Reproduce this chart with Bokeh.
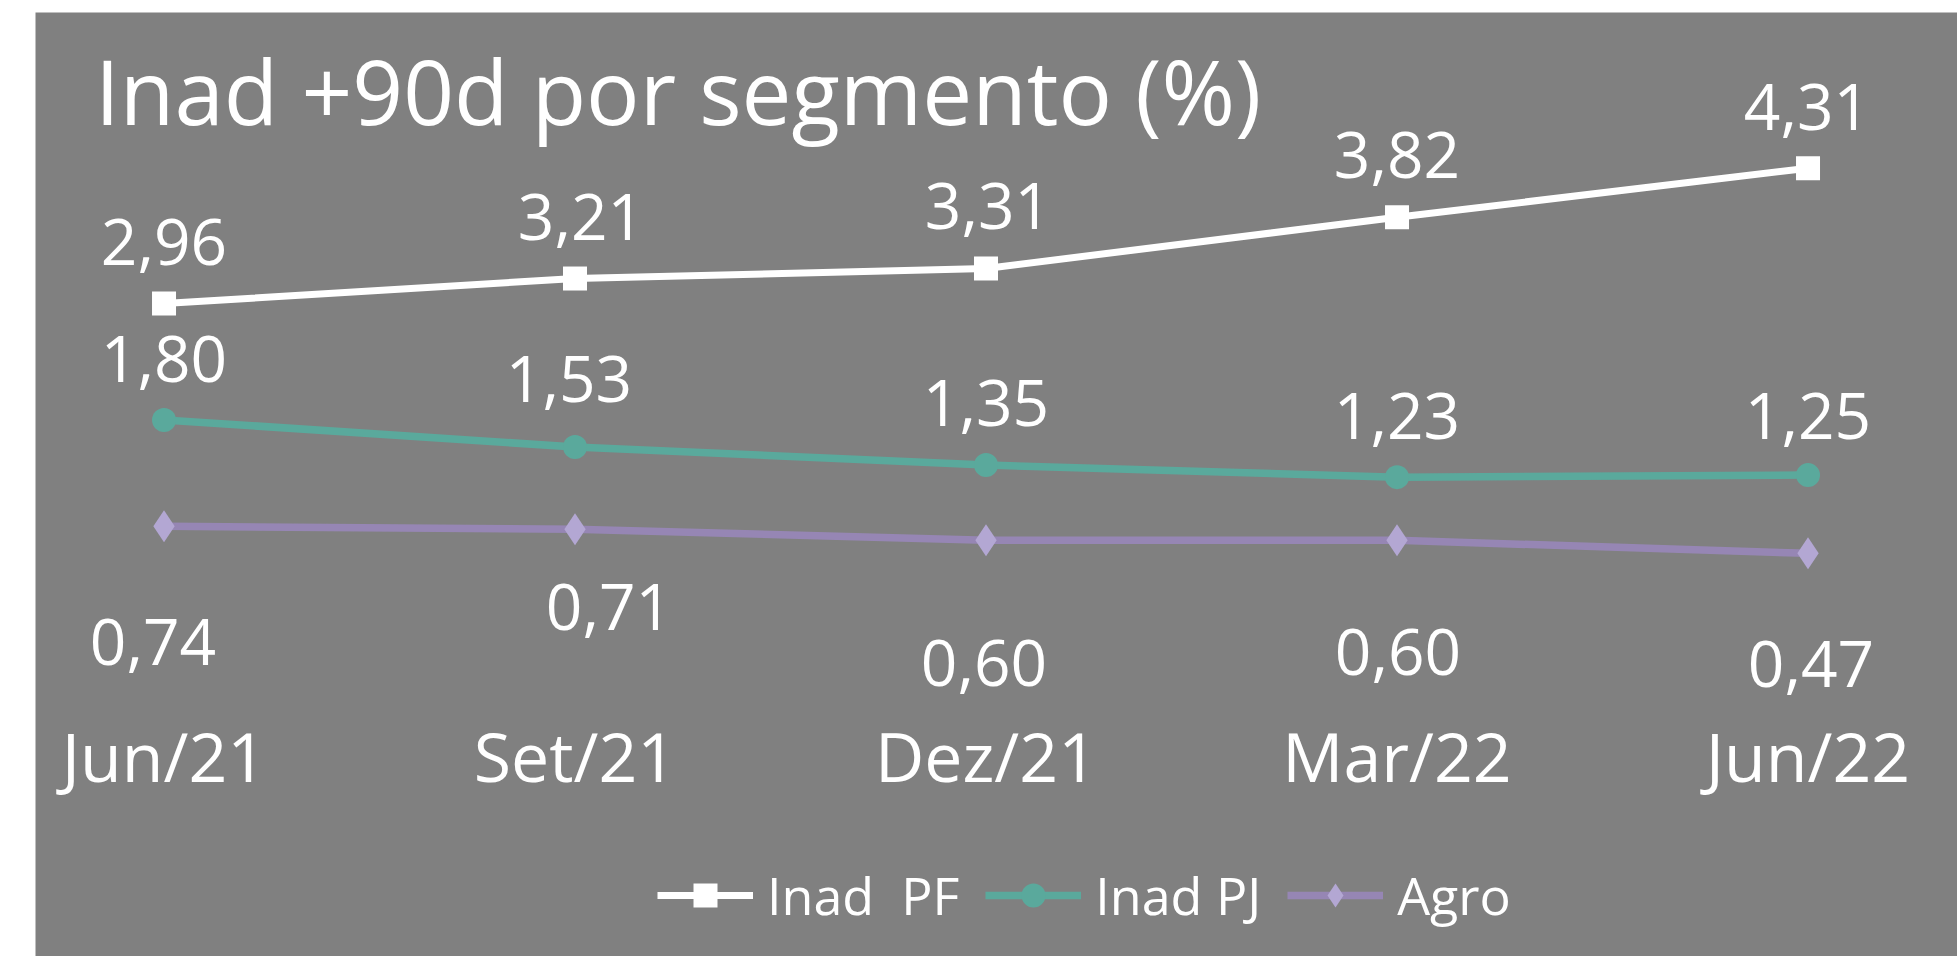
from bokeh.plotting import figure
from bokeh.models import (Range1d, FixedTicker, Legend, LegendItem,
                          ColumnDataSource, Label, Spacer)
from bokeh.layouts import column, row
from bokeh.embed import file_html
from bokeh.resources import INLINE
from bokeh.core.properties import value

# ---------------- data ----------------
periods = ["Jun/21", "Set/21", "Dez/21", "Mar/22", "Jun/22"]
inad_pf = [2.96, 3.21, 3.31, 3.82, 4.31]
inad_pj = [1.80, 1.53, 1.35, 1.23, 1.25]
agro = [0.74, 0.71, 0.60, 0.60, 0.47]
series_names = ["Inad  PF", "Inad PJ", "Agro"]
title_text = "Inad +90d por segmento (%)"

# ---------------- style ----------------
FONT = "Open Sans"
BG = "#808080"
PF_COLOR = "#ffffff"
PJ_COLOR = "#5aa99c"
AGRO_LINE = "#9686b4"
AGRO_MARK = "#b3a7d3"

# label offsets in screen px (dx right, up = upward)
pf_dx = [0, 6, 2, 0, -1]
pf_up = [62, 62, 62, 62, 61]
pj_dx = [0, -6, 0, 0, 0]
pj_up = [61, 68, 62, 61, 59]
ag_dx = [-11, 34, -2, 1, 3]
ag_up = [-116, -78, -123, -112, -111]

def fmt(v):
    return f"{v:.2f}".replace(".", ",")

xs = list(range(len(periods)))

p = figure(frame_width=1922, frame_height=944,
           x_range=Range1d(-0.3127, 4.3637), y_range=Range1d(-3.549, 5.862),
           output_backend="svg", toolbar_location=None,
           min_border_left=0, min_border_right=0, min_border_top=0,
           min_border_bottom=0)
p.background_fill_color = BG
p.border_fill_color = BG
p.outline_line_color = None
p.xgrid.visible = False
p.ygrid.visible = False
p.yaxis.visible = False

ax = p.xaxis[0]
ax.fixed_location = -0.997
ax.ticker = FixedTicker(ticks=xs)
ax.major_label_overrides = {i: lab for i, lab in enumerate(periods)}
ax.axis_line_color = None
ax.major_tick_line_color = None
ax.minor_tick_line_color = None
ax.major_tick_out = 0
ax.major_tick_in = 0
ax.major_label_standoff = 8
ax.major_label_text_font = FONT
ax.major_label_text_font_size = "68px"
ax.major_label_text_color = "white"

src_pf = ColumnDataSource(dict(x=xs, y=inad_pf, t=[fmt(v) for v in inad_pf],
                               dx=pf_dx, dy=[-u for u in pf_up]))
src_pj = ColumnDataSource(dict(x=xs, y=inad_pj, t=[fmt(v) for v in inad_pj],
                               dx=pj_dx, dy=[-u for u in pj_up]))
src_ag = ColumnDataSource(dict(x=xs, y=agro, t=[fmt(v) for v in agro],
                               dx=ag_dx, dy=[-u for u in ag_up]))

l_ag = p.line("x", "y", source=src_ag, line_color=AGRO_LINE, line_width=7.5)
m_ag = p.scatter("x", "y", source=src_ag, marker="diamond", size=32,
                 fill_color=AGRO_MARK, line_color=None)
l_pj = p.line("x", "y", source=src_pj, line_color=PJ_COLOR, line_width=7.5)
m_pj = p.scatter("x", "y", source=src_pj, marker="circle", size=24,
                 fill_color=PJ_COLOR, line_color=None)
l_pf = p.line("x", "y", source=src_pf, line_color=PF_COLOR, line_width=7)
m_pf = p.scatter("x", "y", source=src_pf, marker="square", size=24,
                 fill_color=PF_COLOR, line_color=None)

for src in (src_pf, src_pj, src_ag):
    p.text("x", "y", text="t", source=src, x_offset="dx", y_offset="dy",
           text_font=value(FONT), text_font_size=value("64px"),
           text_color="white", text_align="center", text_baseline="middle")

title = Label(x=-0.168, y=5.083, text=title_text, text_font=FONT,
              text_font_size="89px", text_color="white",
              text_baseline="alphabetic", text_align="left")
p.add_layout(title)

legend = Legend(items=[
    LegendItem(label=series_names[0], renderers=[l_pf, m_pf]),
    LegendItem(label=series_names[1], renderers=[l_pj, m_pj]),
    LegendItem(label=series_names[2], renderers=[l_ag, m_ag]),
], orientation="horizontal", location=(622, 26), margin=0, padding=0,
   spacing=26, glyph_width=96, glyph_height=60, label_standoff=14,
   label_text_font=FONT, label_text_font_size="52px", label_text_color="white",
   background_fill_alpha=0, border_line_color=None)
p.add_layout(legend, "center")

layout = column(Spacer(height=12), row(Spacer(width=35), p))

with open("out.html", "w") as f:
    f.write(file_html(layout, INLINE))
